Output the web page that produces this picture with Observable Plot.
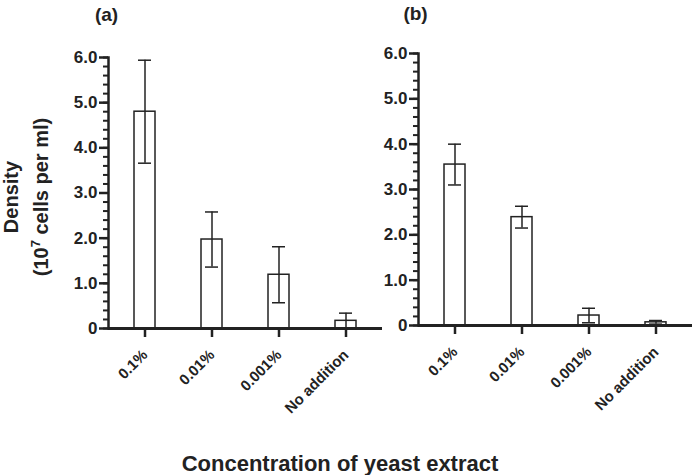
<!DOCTYPE html>
<html><head><meta charset="utf-8">
<script src="https://cdn.jsdelivr.net/npm/d3@7"></script>
<script src="https://cdn.jsdelivr.net/npm/@observablehq/plot@0.6"></script>
<style>
body{margin:0;background:#fff;}
#wrap{position:relative;width:692px;height:475px;font-family:"Liberation Sans",Arial,sans-serif;font-weight:bold;color:#222;overflow:hidden;}
#wrap svg{position:absolute;top:0;}
#ytitle{position:absolute;left:-74px;top:167px;width:200px;height:60px;line-height:30px;font-size:20px;text-align:center;transform:rotate(-90deg);transform-origin:center;white-space:nowrap;}
#ytitle sup{font-size:13px;line-height:0;}
#xtitle{position:absolute;left:0;top:452px;width:680px;text-align:center;font-size:22px;line-height:24px;}
</style></head><body>
<div id="wrap">
<div id="ytitle">Density<br>(10<sup>7</sup> cells per ml)</div>
<div id="xtitle">Concentration of yeast extract</div>
</div>
<script>
const categories = ["0.1%", "0.01%", "0.001%", "No addition"];
const panels = ["(a)", "(b)"];
const meanA = [4.80, 1.97, 1.19, 0.17];
const sdA = [1.14, 0.61, 0.62, 0.17];
const meanB = [3.55, 2.39, 0.22, 0.07];
const sdB = [0.45, 0.24, 0.16, 0.04];
const yTicks = [0, 1, 2, 3, 4, 5, 6];
const yMinorTicks = d3.range(0, 6.001, 0.2);

const ink = "#222";

function panel(title, means, sds, o) {
  const rows = categories.map((c, i) => ({
    cat: c, mean: means[i],
    lo: Math.max(0, means[i] - sds[i]), hi: means[i] + sds[i]
  }));
  return Plot.plot({
    width: o.width, height: 475,
    marginLeft: o.marginLeft, marginRight: 0,
    marginTop: o.marginTop, marginBottom: o.marginBottom,
    style: {fontFamily: '"Liberation Sans", Arial, sans-serif', fontWeight: "bold", color: ink, background: "transparent", overflow: "visible"},
    x: {domain: categories, paddingInner: 0.69, paddingOuter: 0.36, label: null},
    y: {domain: [0, 6], label: null},
    marks: [
      Plot.barY(rows, {x: "cat", y: "mean", fill: "white", stroke: ink, strokeWidth: 1.5}),
      Plot.ruleX(rows, {x: "cat", y1: "lo", y2: "hi", stroke: ink, strokeWidth: 1.5}),
      Plot.tickY(rows, {x: "cat", y: "hi", insetLeft: 4, insetRight: 4, stroke: ink, strokeWidth: 1.5}),
      Plot.tickY(rows, {x: "cat", y: "lo", insetLeft: 4, insetRight: 4, stroke: ink, strokeWidth: 1.5}),
      Plot.ruleY([0], {stroke: ink, strokeWidth: 3}),
      Plot.frame({anchor: "left", stroke: ink, strokeWidth: 2.5}),
      Plot.axisY({ticks: yMinorTicks, tickSize: 5, tickFormat: () => "", stroke: ink, strokeWidth: 2, label: null}),
      Plot.axisY({ticks: yTicks, tickSize: 9, tickPadding: 2, tickFormat: d => d === 0 ? "0" : d.toFixed(1), fontSize: 17, fontWeight: "bold", fill: ink, stroke: ink, strokeWidth: 2.5, label: null}),
      Plot.axisX({tickSize: 9, tickPadding: 15, tickRotate: -45, fontSize: 15, fontWeight: "bold", fill: ink, stroke: ink, strokeWidth: 2.5, label: null}),
      Plot.text([title], {text: d => d, frameAnchor: "top-left", textAnchor: "middle", dx: o.tdx, dy: o.tdy, fontSize: 19, fontWeight: "bold", fill: ink})
    ]
  });
}

const wrap = document.getElementById("wrap");
const a = panel(panels[0], meanA, sdA, {width: 382, marginLeft: 108, marginTop: 57, marginBottom: 147, tdx: -2, tdy: -50});
a.style.left = "0px";
const b = panel(panels[1], meanB, sdB, {width: 310, marginLeft: 36, marginTop: 53, marginBottom: 150, tdx: -3, tdy: -47});
b.style.left = "382px";
wrap.insertBefore(b, wrap.firstChild);
wrap.insertBefore(a, wrap.firstChild);
</script>
</body></html>
